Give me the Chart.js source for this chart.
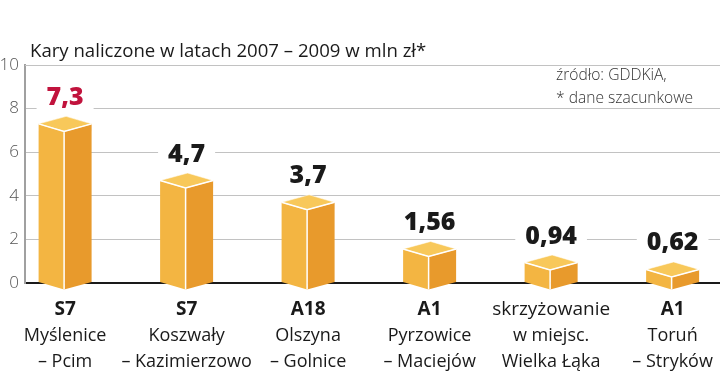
<!DOCTYPE html>
<html><head><meta charset="utf-8">
<script src="https://cdn.jsdelivr.net/npm/chart.js@4/dist/chart.umd.min.js"></script>
<style>
html,body{margin:0;padding:0;background:#fff;}
#wrap{position:relative;width:720px;height:373px;overflow:hidden;}
canvas{position:absolute;left:0;top:0;}
.t{position:absolute;font-family:'Open Sans',sans-serif;white-space:nowrap;color:#1a1a1a;}
</style></head><body>
<div id="wrap">
<canvas id="c" width="720" height="373"></canvas>
<div class="t" style="left:30px;top:38px;font-size:18.6px;line-height:24px;">Kary naliczone w latach 2007 – 2009 w mln zł*</div>
<div class="t" style="left:556px;top:63px;font-size:15.6px;line-height:22.5px;font-weight:300;color:#333;">źródło: GDDKiA,<br>* dane szacunkowe</div>
</div>
<script>
const categoryCodes = ['S7', 'S7', 'A18', 'A1', 'skrzyżowanie', 'A1'];
const categoryPlaces = [
  ['Myślenice', '– Pcim'],
  ['Koszwały', '– Kazimierzowo'],
  ['Olszyna', '– Golnice'],
  ['Pyrzowice', '– Maciejów'],
  ['w miejsc.', 'Wielka Łąka'],
  ['Toruń', '– Stryków']
];
const values = [7.3, 4.7, 3.7, 1.56, 0.94, 0.62];
const valueLabels = ['7,3', '4,7', '3,7', '1,56', '0,94', '0,62'];
const yTicks = [0, 2, 4, 6, 8, 10];
const highlightIndex = 0;

Chart.defaults.font.family = "'Open Sans', sans-serif";

const topGrid = {
  id: 'topGrid',
  afterDraw(chart) {
    const ctx = chart.ctx, y = chart.scales.y, a = chart.chartArea;
    const py = Math.round(y.getPixelForValue(yTicks[yTicks.length - 1])) + 0.5;
    ctx.save();
    ctx.strokeStyle = '#c2c2c2'; ctx.lineWidth = 1;
    ctx.beginPath(); ctx.moveTo(a.left, py); ctx.lineTo(a.right, py); ctx.stroke();
    ctx.restore();
  }
};

const box3d = {
  id: 'box3d',
  afterDatasetsDraw(chart) {
    const ctx = chart.ctx;
    const meta = chart.getDatasetMeta(0);
    meta.data.forEach((el, i) => {
      const p = el.getProps(['x', 'y', 'base', 'width'], true);
      const cx = p.x, top = p.y, base = p.base, hw = p.width / 2, d = 7.5, fx = cx - 1;
      ctx.save();
      ctx.beginPath();
      ctx.moveTo(cx - hw, top); ctx.lineTo(fx, top + d); ctx.lineTo(fx, base + d); ctx.lineTo(cx - hw, base);
      ctx.closePath(); ctx.fillStyle = '#F3B542'; ctx.fill();
      ctx.beginPath();
      ctx.moveTo(fx, top + d); ctx.lineTo(cx + hw, top); ctx.lineTo(cx + hw, base); ctx.lineTo(fx, base + d);
      ctx.closePath(); ctx.fillStyle = '#E89A2C'; ctx.fill();
      ctx.beginPath();
      ctx.moveTo(cx - hw, top); ctx.lineTo(cx + 1, top - d); ctx.lineTo(cx + hw, top); ctx.lineTo(fx, top + d);
      ctx.closePath(); ctx.fillStyle = '#F8C85A'; ctx.fill();
      ctx.strokeStyle = 'rgba(255,255,255,0.55)'; ctx.lineWidth = 1; ctx.stroke();
      ctx.beginPath();
      ctx.moveTo(cx - hw, top); ctx.lineTo(fx, top + d); ctx.lineTo(cx + hw, top);
      ctx.moveTo(fx, top + d); ctx.lineTo(fx, base + d);
      ctx.strokeStyle = '#fff'; ctx.lineWidth = 1.5; ctx.stroke();
      ctx.font = "800 25px 'Open Sans', sans-serif";
      const txt = valueLabels[i];
      const tw = ctx.measureText(txt).width;
      const by = top - 19;
      ctx.fillStyle = '#fff';
      ctx.fillRect(cx - tw / 2 - 10, by - 22, tw + 20, 27);
      ctx.fillStyle = i === highlightIndex ? '#C1133D' : '#1a1a1a';
      ctx.textAlign = 'center'; ctx.textBaseline = 'alphabetic';
      ctx.fillText(txt, cx, by);
      ctx.restore();
    });
  }
};

const xMin = -0.33, xMax = 5.39;
function setCatTicks(scale) { scale.ticks = categoryCodes.map((c, i) => ({ value: i })); }

new Chart(document.getElementById('c'), {
  type: 'bar',
  data: {
    datasets: [{
      data: values.map((v, i) => ({ x: i, y: v })),
      backgroundColor: 'rgba(0,0,0,0)',
      borderWidth: 0,
      barThickness: 53,
      xAxisID: 'x', yAxisID: 'y'
    }]
  },
  options: {
    responsive: false, animation: false, devicePixelRatio: 1,
    layout: { padding: { top: 65, right: 0, bottom: 0, left: 0 } },
    plugins: { legend: { display: false }, tooltip: { enabled: false }, title: { display: false } },
    scales: {
      x: {
        type: 'linear', position: 'bottom', min: xMin, max: xMax, weight: 0, offset: false,
        grid: { display: false, drawTicks: false }, border: { display: false },
        afterBuildTicks: setCatTicks,
        afterFit: s => { s.height = 40; },
        ticks: {
          padding: 14, maxRotation: 0, autoSkip: false, color: '#1a1a1a',
          callback: v => categoryCodes[v],
          font: ctx => ({ size: 19, weight: ctx.index === 4 ? 'normal' : 'bold', lineHeight: '26px' })
        }
      },
      x2: {
        type: 'linear', position: 'bottom', min: xMin, max: xMax, weight: 1, offset: false,
        grid: { display: false, drawTicks: false }, border: { display: false },
        afterBuildTicks: setCatTicks,
        afterFit: s => { s.height = 50; },
        ticks: {
          padding: 0, maxRotation: 0, autoSkip: false, color: '#1a1a1a',
          callback: v => categoryPlaces[v],
          font: { size: 18, weight: 'normal', lineHeight: '26px' }
        }
      },
      y: {
        min: 0, max: 10,
        afterBuildTicks: s => { s.ticks = yTicks.map(v => ({ value: v })); },
        afterFit: s => { s.width = 25; },
        grid: {
          drawTicks: false,
          color: c => c.tick && c.tick.value === 0 ? '#1a1a1a' : '#c2c2c2',
          lineWidth: c => c.tick && c.tick.value === 0 ? 2 : 1
        },
        border: { color: '#a0a0a0', width: 2 },
        ticks: { padding: 6, color: '#555', font: { size: 17, weight: 300 } }
      }
    }
  },
  plugins: [topGrid, box3d]
});
</script>
</body></html>
